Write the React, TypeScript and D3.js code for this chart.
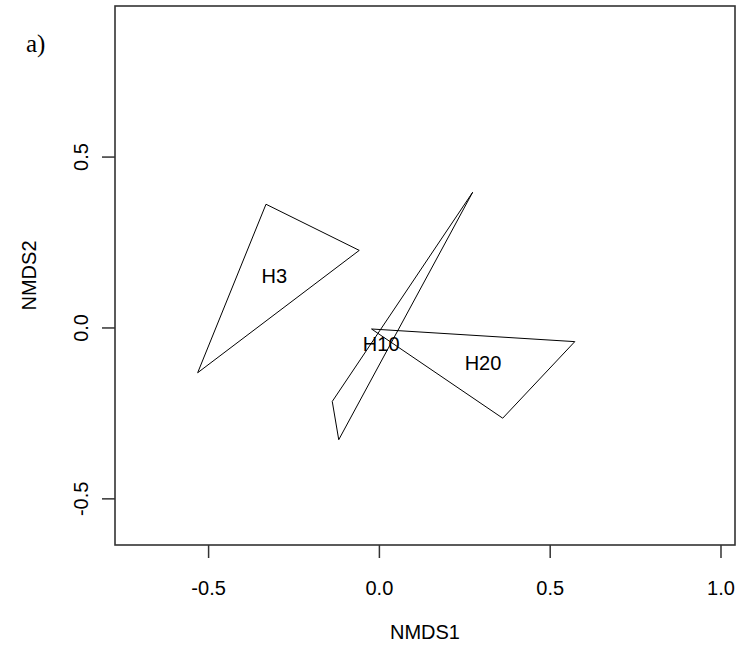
import React from "react";
import * as d3 from "d3";

const groups = ["H3", "H10", "H20"];
const hullH3: [number, number][] = [[-0.332, 0.362], [-0.059, 0.227], [-0.532, -0.131]];
const hullH10: [number, number][] = [[0.273, 0.397], [-0.138, -0.215], [-0.119, -0.327]];
const hullH20: [number, number][] = [[-0.023, -0.003], [0.572, -0.040], [0.361, -0.264]];
const xTicks = [-0.5, 0.0, 0.5, 1.0];
const yTicks = [-0.5, 0.0, 0.5];
const xLim = [-0.774, 1.041];
const yLim = [-0.635, 0.942];

const W = 742, H = 658;
const L = 115, R = 735, T = 6, B = 545;

export default function App() {
  const x = d3.scaleLinear().domain(xLim).range([L, R]);
  const y = d3.scaleLinear().domain(yLim).range([B, T]);
  const hulls = [hullH3, hullH10, hullH20];
  const line = d3.line<[number, number]>().x(d => x(d[0])).y(d => y(d[1])).curve(d3.curveLinearClosed);
  const font = "'Liberation Sans', Arial, sans-serif";
  const fs = 20;
  const fmt = (t: number) => t.toFixed(1);
  return (
    <svg width={W} height={H} style={{ position: "absolute", left: 0, top: 0, background: "#fff" }}>
      <rect x={0} y={0} width={W} height={H} fill="#fff" />
      <text x={26} y={52} fontFamily="'Liberation Serif', 'Times New Roman', serif" fontSize={25} fill="#000">a)</text>
      <rect x={L} y={T} width={R - L} height={B - T} fill="none" stroke="#333" strokeWidth={1.6} />
      {xTicks.map(t => (
        <g key={"x" + t}>
          <line x1={x(t)} x2={x(t)} y1={B} y2={B + 13} stroke="#333" strokeWidth={1.5} />
          <text x={x(t)} y={595} textAnchor="middle" fontFamily={font} fontSize={fs} fill="#000">{fmt(t)}</text>
        </g>
      ))}
      {yTicks.map(t => (
        <g key={"y" + t}>
          <line x1={L - 13} x2={L} y1={y(t)} y2={y(t)} stroke="#333" strokeWidth={1.5} />
          <text transform={`translate(88,${y(t)}) rotate(-90)`} textAnchor="middle" fontFamily={font} fontSize={fs} fill="#000">{fmt(t)}</text>
        </g>
      ))}
      <text x={(L + R) / 2} y={639} textAnchor="middle" fontFamily={font} fontSize={fs} fill="#000">NMDS1</text>
      <text transform={`translate(36,${(T + B) / 2}) rotate(-90)`} textAnchor="middle" fontFamily={font} fontSize={fs} fill="#000">NMDS2</text>
      {hulls.map((h, i) => {
        const c = d3.polygonCentroid(h);
        return (
          <g key={groups[i]}>
            <path d={line(h) || ""} fill="none" stroke="#000" strokeWidth={1} />
            <text x={x(c[0])} y={y(c[1])} dy="0.35em" textAnchor="middle" fontFamily={font} fontSize={fs} fill="#000">{groups[i]}</text>
          </g>
        );
      })}
    </svg>
  );
}
